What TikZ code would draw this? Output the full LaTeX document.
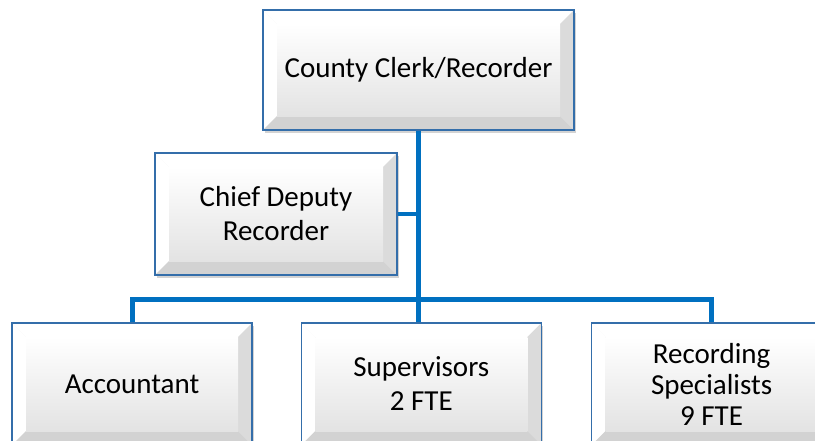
\documentclass[tikz,border=0pt]{standalone}
\usepackage{fontspec}
\setmainfont{Carlito}
\usetikzlibrary{positioning,calc,shadows}
\definecolor{boxblue}{RGB}{52,110,170}
\definecolor{linkblue}{RGB}{0,112,192}
\tikzstyle{link}=[draw=linkblue, line width=5pt]
\tikzstyle{bevel}=[draw=boxblue, line width=1.3pt, fill=gray!12,
  minimum width=240pt, minimum height=122pt, inner sep=0pt,
  align=center, font=\fontsize{29pt}{34pt}\selectfont,
  drop shadow={shadow xshift=2pt, shadow yshift=-3pt, opacity=0.35},
  path picture={
    \coordinate (nw) at (path picture bounding box.north west);
    \coordinate (ne) at (path picture bounding box.north east);
    \coordinate (sw) at (path picture bounding box.south west);
    \coordinate (se) at (path picture bounding box.south east);
    \fill[white] (nw) -- (ne) -- ($(ne)+(-14pt,-14pt)$) -- ($(nw)+(14pt,-14pt)$) -- cycle;
    \fill[white] (nw) -- ($(nw)+(14pt,-14pt)$) -- ($(sw)+(14pt,14pt)$) -- (sw) -- cycle;
    \fill[gray!28] (ne) -- (se) -- ($(se)+(-14pt,14pt)$) -- ($(ne)+(-14pt,-14pt)$) -- cycle;
    \fill[gray!35] (sw) -- (se) -- ($(se)+(-14pt,14pt)$) -- ($(sw)+(14pt,14pt)$) -- cycle;
    \shade[top color=white, bottom color=gray!22]
      ($(nw)+(14pt,-14pt)$) rectangle ($(se)+(-14pt,14pt)$);
  }]

\begin{document}
\begin{tikzpicture}[x=1pt,y=-1pt]
\useasboundingbox (0,0) rectangle (815,440);
\clip (0,0) rectangle (815,440);

\node (clerk) [bevel, minimum width=311pt, minimum height=120pt] at (418.5,70) {County Clerk/Recorder};
\node (chief) [bevel, minimum width=242pt] at (276,214) {Chief Deputy\\Recorder};
\node (accountant) [bevel] at (132,384) {Accountant};
\node (supervisors) [bevel, right=48pt of accountant] {Supervisors\\2 FTE};
\node (recording) [bevel, right=49pt of supervisors,
  font=\fontsize{29pt}{31pt}\selectfont] {Recording\\Specialists\\9 FTE};

\coordinate (bus) at (419,299);

\draw [link] (clerk.south) -- (clerk.south |- supervisors.north);
\draw [link, line width=4pt] (chief.east) -- (chief.east -| clerk.south);
\draw [link] (accountant.north) |- (bus) -| (recording.north);

\end{tikzpicture}
\end{document}
